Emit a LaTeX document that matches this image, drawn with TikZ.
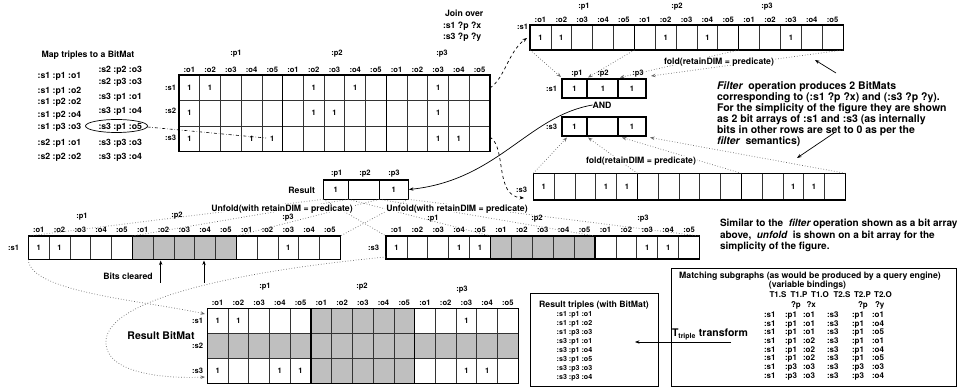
\documentclass[tikz,border=0pt]{standalone}
\usepackage{fontspec}
\setmainfont{TeX Gyre Heros}
\usetikzlibrary{arrows.meta,calc}
\definecolor{cellgrey}{RGB}{191,191,191}
\definecolor{dotgrey}{RGB}{105,105,105}
\newcommand\bmgrid[5]{%
  \foreach \ii in {1,...,14}{\draw[gridln] ({#1+\ii*#3},{#2}) -- ({#1+\ii*#3},{#2+#5*#4});}%
  \foreach \jj in {1,...,#5}{\draw[gridln] ({#1},{#2+\jj*#4}) -- ({#1+15*#3},{#2+\jj*#4});}%
  \foreach \ii in {5,10}{\draw[frameln] ({#1+\ii*#3},{#2}) -- ({#1+\ii*#3},{#2+#5*#4});}%
  \draw[frameln] ({#1},{#2}) rectangle ({#1+15*#3},{#2+#5*#4});}
\newcommand\bmones[5]{\foreach \cc/\rr in {#5}{\node[lbl] at ({#1+(\cc+0.5)*#3},{#2+(\rr+0.5)*#4}) {1};}}
\newcommand\bmgrey[5]{\foreach \cc/\rr in {#5}{\fill[cellgrey] ({#1+\cc*#3},{#2+\rr*#4}) rectangle ++({#3},{#4});}}
\newcommand\bmolabels[3]{\foreach \ii in {0,...,14}{\pgfmathtruncatemacro\ok{mod(\ii,5)+1}\node[lbl] at ({#1+(\ii+0.5)*#2},{#3}) {:o\ok};}}
\begin{document}
\begin{tikzpicture}[x=1pt,y=-1pt,
  every node/.style={inner sep=0pt,outer sep=0pt},
  lbl/.style={font=\fontsize{7.6}{8}\selectfont\bfseries,text height=5.5pt,text depth=0pt},
  txt/.style={font=\fontsize{8.7}{9}\selectfont\bfseries,text height=6.3pt,text depth=0pt},
  sml/.style={font=\fontsize{8}{8}\selectfont\bfseries,text height=5.8pt,text depth=0pt},
  tiny/.style={font=\fontsize{7.1}{8}\selectfont\bfseries,text height=5.2pt,text depth=0pt},
  big/.style={font=\fontsize{10.5}{11}\selectfont\bfseries,text height=7.6pt,text depth=0pt},
  mid/.style={font=\fontsize{10}{11}\selectfont\bfseries,text height=7.2pt,text depth=0pt},
  gridln/.style={line width=0.7pt,draw=black!80},
  frameln/.style={line width=1.1pt,draw=black},
  dots/.style={dotted,line width=0.7pt,draw=dotgrey},
  tip/.style={-{Stealth[length=4.5pt,width=3.4pt]}},
  onwhite/.style={fill=white,inner xsep=1pt,inner ysep=1pt},
]
\useasboundingbox (0,0) rectangle (962,387);
\fill[white] (0,0) rectangle (962,387);

% ---------------- left list of triples
\node[txt] (maptitle) at (88,54) {Map triples to a BitMat};
\foreach \tt/\yy [count=\n] in {{:s1 :p1 :o1}/75,{:s1 :p1 :o2}/90,{:s1 :p2 :o2}/101.7,{:s1 :p2 :o4}/114.3,{:s1 :p3 :o3}/126,{:s2 :p1 :o1}/142.3,{:s2 :p2 :o2}/156}
  {\node[txt,anchor=west] (la\n) at (37.7,\yy) {\tt};}
\foreach \tt/\yy [count=\n] in {{:s2 :p2 :o3}/69,{:s2 :p3 :o3}/81,{:s3 :p1 :o1}/96.3,{:s3 :p1 :o4}/110.7,{:s3 :p1 :o5}/126,{:s3 :p3 :o3}/142.3,{:s3 :p3 :o4}/156}
  {\node[txt,anchor=west] (lb\n) at (98.5,\yy) {\tt};}
\draw[line width=0.7pt] (116.5,126) ellipse [x radius=31, y radius=6.5];
\coordinate (ellR) at (147.5,127);
\coordinate (cellS3o5) at (266,138);
\draw[dash dot,line width=0.6pt] (ellR) -- (cellS3o5);

% ---------------- main BitMat
\def\Mx{179}\def\My{75}\def\Mw{20.73}\def\Mh{25.5}
\bmgrid{\Mx}{\My}{\Mw}{\Mh}{3}
\bmones{\Mx}{\My}{\Mw}{\Mh}{0/0,1/0,6/0,8/0,12/0,0/1,6/1,7/1,12/1,0/2,3/2,4/2,12/2,13/2}
\bmolabels{\Mx}{\Mw}{69.5}
\node[lbl] (mp1) at (236,53) {:p1};
\node[lbl] (mp2) at (337,53) {:p2};
\node[lbl] (mp3) at (442,53) {:p3};
\node[lbl,anchor=east] (ms1) at (176,88) {:s1};
\node[lbl,anchor=east] (ms2) at (176,111) {:s2};
\node[lbl,anchor=east] (ms3) at (176,138) {:s3};

% ---------------- join over
\node[txt,anchor=west] (join) at (445,13.3) {Join over};
\node[txt,anchor=west] (join1) at (443,25.7) {:s1 ?p ?x};
\node[txt,anchor=west] (join2) at (443,36.5) {:s3 ?p ?y};

% ---------------- top s1 array
\def\Tx{530}\def\Ty{25}\def\Tw{20.87}\def\Th{25}
\bmgrid{\Tx}{\Ty}{\Tw}{\Th}{1}
\bmones{\Tx}{\Ty}{\Tw}{\Th}{0/0,1/0,6/0,8/0,12/0}
\bmolabels{\Tx}{\Tw}{19.5}
\node[lbl] (tp1) at (584,6) {:p1};
\node[lbl] (tp2) at (677,6) {:p2};
\node[lbl] (tp3) at (767,6) {:p3};
\node[lbl,anchor=east] (ts1) at (528,27) {:s1};

% join dashed curves
\coordinate (mS1R) at (490,88);
\coordinate (mS3R) at (490,137);
\coordinate (ts1in) at (527,38);
\coordinate (bs3in) at (524,198);
\draw[dashed,line width=0.7pt,tip] (mS1R) .. controls (505,78) and (508,52) .. (ts1in);
\draw[dashed,line width=0.7pt,tip] (mS3R) .. controls (507,148) and (494,196) .. (bs3in);

% ---------------- small s1 box
\draw[frameln] (562,79) rectangle (646,98);
\draw[frameln] (587,79) -- (587,98) (618,79) -- (618,98);
\node[lbl] (ss1a) at (574.5,88.5) {1};
\node[lbl] (ss1b) at (603,88.5) {1};
\node[lbl] (ss1c) at (632,88.5) {1};
\node[lbl] (sp1) at (577,73) {:p1};
\node[lbl] (sp2) at (603,73) {:p2};
\node[lbl] (sp3) at (638,73) {:p3};
\node[lbl,anchor=east] (ss1) at (557,88.5) {:s1};
% fold arrows 1
\coordinate (tb0) at (530,50);   \coordinate (tb1) at (634.35,50);
\coordinate (tb2) at (738.7,50); \coordinate (tb3) at (843,50);
\coordinate (st0) at (561,77);   \coordinate (st1) at (588,77.5);
\coordinate (st2) at (620,77.5); \coordinate (st3) at (651,76);
\foreach \ii in {0,...,3}{\draw[dots,tip] (tb\ii) -- (st\ii);}
\node[txt,onwhite] (fold1) at (719,61) {fold(retainDIM = predicate)};

% ---------------- AND and small s3 box
\node[txt] (and) at (602,105) {AND};
\draw[frameln] (562,117) rectangle (646,136);
\draw[frameln] (587,117) -- (587,136) (618,117) -- (618,136);
\node[lbl] (ss3a) at (574.5,126.5) {1};
\node[lbl] (ss3c) at (632,126.5) {1};
\node[lbl,anchor=east] (ss3) at (557,126.5) {:s3};

% ---------------- bottom s3 (fold) array
\def\Bx{533.3}\def\By{173.3}\def\Bw{20.8}\def\Bh{26.7}
\bmgrid{\Bx}{\By}{\Bw}{\Bh}{1}
\bmones{\Bx}{\By}{\Bw}{\Bh}{0/0,3/0,4/0,12/0,13/0}
\node[lbl,anchor=east] (bs3) at (527,190) {:s3};
\coordinate (bb0) at (533.3,173.3); \coordinate (bb1) at (637.3,173.3);
\coordinate (bb2) at (741.3,173.3); \coordinate (bb3) at (845.3,173.3);
\coordinate (sb0) at (567,137.5);   \coordinate (sb1) at (588,137.5);
\coordinate (sb2) at (622,137.5);   \coordinate (sb3) at (650,137.5);
\foreach \ii in {0,...,3}{\draw[dots,tip] (bb\ii) -- (sb\ii);}
\node[txt,onwhite] (fold2) at (641,160) {fold(retainDIM = predicate)};

% ---------------- filter paragraph
\node[big,anchor=west] (f1) at (717,86) {\itshape Filter\upshape\ \ operation produces 2 BitMats};
\node[big,anchor=west] (f2) at (717,97) {corresponding to (:s1 ?p ?x) and (:s3 ?p ?y).};
\node[big,anchor=west] (f3) at (717,108) {For the simplicity of the figure they are shown};
\node[big,anchor=west] (f4) at (717,119) {as 2 bit arrays of :s1 and :s3 (as internally};
\node[big,anchor=west] (f5) at (717,130) {bits in other rows are set to 0 as per the};
\node[big,anchor=west] (f6) at (717,141) {\itshape filter\upshape\ \ semantics)};
\coordinate (fa1s) at (836,73);  \coordinate (fa1e) at (815,60);
\coordinate (fa2s) at (834,133); \coordinate (fa2e) at (797,158);
\draw[line width=0.7pt,tip] (fa1s) -- (fa1e);
\draw[line width=0.7pt,tip] (fa2s) -- (fa2e);

% ---------------- Result array
\draw[frameln] (323.3,180) rectangle (408.3,199.3);
\draw[frameln] (348.3,180) -- (348.3,199.3) (379.3,180) -- (379.3,199.3);
\node[lbl] (ra) at (335.8,190) {1};
\node[lbl] (rc) at (393.8,190) {1};
\node[lbl] (rp1) at (336.7,172.3) {:p1};
\node[lbl] (rp2) at (365,172.3) {:p2};
\node[lbl] (rp3) at (394,172.3) {:p3};
\node[txt,anchor=east] (result) at (315,190) {Result};
\coordinate (resE) at (409,189.5);
\draw[line width=0.7pt,tip] (and.west) .. controls (528,116) and (498,180) .. (resE);

% ---------------- unfold arrays
\def\Lx{28.3}\def\Ly{236}\def\Lw{20.8}\def\Lh{23.5}
\bmgrey{\Lx}{\Ly}{\Lw}{\Lh}{5/0,6/0,7/0,8/0,9/0}
\bmgrid{\Lx}{\Ly}{\Lw}{\Lh}{1}
\bmones{\Lx}{\Ly}{\Lw}{\Lh}{0/0,1/0,12/0}
\bmolabels{\Lx}{\Lw}{230}
\node[lbl] (lp1) at (82,216) {:p1};
\node[lbl] (lp2) at (177,215) {:p2};
\node[lbl] (lp3) at (288,217) {:p3};
\node[lbl,anchor=east] (ls1) at (19,248) {:s1};

\def\Rx{386}\def\Ry{236}\def\Rw{20.9}\def\Rh{23}
\bmgrey{\Rx}{\Ry}{\Rw}{\Rh}{5/0,6/0,7/0,8/0,9/0}
\bmgrid{\Rx}{\Ry}{\Rw}{\Rh}{1}
\bmones{\Rx}{\Ry}{\Rw}{\Rh}{0/0,3/0,4/0,12/0,13/0}
\bmolabels{\Rx}{\Rw}{230}
\node[lbl] (qp1) at (433,218) {:p1};
\node[lbl] (qp2) at (537,218) {:p2};
\node[lbl] (qp3) at (643,218) {:p3};
\node[lbl,anchor=east] (qs3) at (379,248) {:s3};

% unfold dotted lines
\coordinate (rb0) at (323.3,199.3); \coordinate (rb1) at (348.3,199.3);
\coordinate (rb2) at (379.3,199.3); \coordinate (rb3) at (408.3,199.3);
\coordinate (lt0) at (28.3,236);  \coordinate (lt1) at (132.3,236);
\coordinate (lt2) at (236.3,236); \coordinate (lt3) at (340.3,236);
\coordinate (qt0) at (386,236);   \coordinate (qt1) at (490.5,236);
\coordinate (qt2) at (595,236);   \coordinate (qt3) at (699.5,236);
\foreach \ii in {0,...,3}{\draw[dots] (rb\ii) -- (lt\ii); \draw[dots] (rb\ii) -- (qt\ii);}
\node[txt,onwhite] (unf1) at (282,208) {Unfold(with retainDIM = predicate)};
\node[txt,onwhite] (unf2) at (457,208) {Unfold(with retainDIM = predicate)};

% bits cleared
\node[txt] (bits) at (128,276) {Bits cleared};
\coordinate (bc1s) at (160.7,283); \coordinate (bc1e) at (160.7,260.5);
\coordinate (bc2s) at (204,283);   \coordinate (bc2e) at (204,260.5);
\draw[line width=0.8pt,tip] (bc1s) -- (bc1e);
\draw[line width=0.8pt,tip] (bc2s) -- (bc2e);

% similar paragraph
\node[mid,anchor=west] (sim1) at (720,223) {Similar to the\ \ \itshape filter\upshape\ operation shown as a bit array};
\node[mid,anchor=west] (sim2) at (720,234.5) {above,\ \ \itshape unfold\upshape\ \ is shown on a bit array for the};
\node[mid,anchor=west] (sim3) at (720,246) {simplicity of the figure.};

% ---------------- Result BitMat
\def\Ex{207.3}\def\Ey{308.3}\def\Ew{20.73}\def\Eh{25}
\bmgrey{\Ex}{\Ey}{\Ew}{\Eh}{5/0,6/0,7/0,8/0,9/0,5/2,6/2,7/2,8/2,9/2,0/1,1/1,2/1,3/1,4/1,5/1,6/1,7/1,8/1,9/1,10/1,11/1,12/1,13/1,14/1}
\bmgrid{\Ex}{\Ey}{\Ew}{\Eh}{3}
\bmones{\Ex}{\Ey}{\Ew}{\Eh}{0/0,1/0,12/0,0/2,3/2,4/2,12/2,13/2}
\bmolabels{\Ex}{\Ew}{302.5}
\node[lbl] (ep1) at (265,286) {:p1};
\node[lbl] (ep2) at (362,286) {:p2};
\node[lbl] (ep3) at (462,289) {:p3};
\node[lbl,anchor=east] (es1) at (203,321) {:s1};
\node[lbl,anchor=east] (es2) at (203,346) {:s2};
\node[lbl,anchor=east] (es3) at (203,371) {:s3};
\node[big] (rbm) at (161,336) {Result BitMat};
\coordinate (lbl0) at (28.3,259.5);
\coordinate (ein1) at (205,314);
\coordinate (rbl0) at (386,257);
\coordinate (ein3) at (205,377);
\draw[dots,tip] (lbl0) .. controls (30,292) and (140,300) .. (ein1);
\draw[dots,tip] (rbl0) .. controls (230,272) and (110,300) .. (106,340) .. controls (103,372) and (160,379) .. (ein3);

% ---------------- result triples box
\draw[line width=0.8pt] (530,293.3) rectangle (658.3,386.5);
\node[txt] (rtt) at (594,304) {Result triples (with BitMat)};
\foreach \tt [count=\n from 0] in {{:s1 :p1 :o1},{:s1 :p1 :o2},{:s1 :p3 :o3},{:s3 :p1 :o1},{:s3 :p1 :o4},{:s3 :p1 :o5},{:s3 :p3 :o3},{:s3 :p3 :o4}}
  {\node[tiny,anchor=west] (rt\n) at (556.7,{314+9*\n}) {\tt};}

% ---------------- matching box
\draw[line width=0.8pt] (671,268.3) rectangle (956.7,386.5);
\node[txt] (mt1) at (810,275) {Matching subgraphs (as would be produced by a query engine)};
\node[txt] (mt2) at (807.5,284.5) {(variable bindings)};
\foreach \hh/\xx in {T1.S/778,T1.P/799,T1.O/820,T2.S/842,T2.P/862.5,T2.O/883}
  {\node[sml] at (\xx,295) {\hh};}
\node[sml,anchor=west] (v1) at (791,305) {?p};
\node[sml,anchor=west] (v2) at (806.5,305) {?x};
\node[sml,anchor=west] (v3) at (858,305) {?p};
\node[sml,anchor=west] (v4) at (875,305) {?y};
\foreach \aa/\bb/\cc/\dd [count=\n from 0] in {p1/o1/p1/o1,p1/o1/p1/o4,p1/o1/p1/o5,p1/o2/p1/o1,p1/o2/p1/o4,p1/o2/p1/o5,p3/o3/p3/o3,p3/o3/p3/o4}{
  \node[sml,anchor=west] at (764,{314.5+8.7*\n}) {:s1};
  \node[sml,anchor=west] at (785,{314.5+8.7*\n}) {:\aa};
  \node[sml,anchor=west] at (803,{314.5+8.7*\n}) {:\bb};
  \node[sml,anchor=west] at (827,{314.5+8.7*\n}) {:s3};
  \node[sml,anchor=west] at (852,{314.5+8.7*\n}) {:\cc};
  \node[sml,anchor=west] at (872,{314.5+8.7*\n}) {:\dd};
}
\node[big,anchor=west] (ttr) at (672,333) {T\textsubscript{\fontsize{7}{7}\selectfont triple} transform};
\coordinate (tarS) at (731,342);
\coordinate (tarE) at (635,342);
\draw[line width=0.7pt,tip] (tarS) -- (tarE);
\end{tikzpicture}
\end{document}
